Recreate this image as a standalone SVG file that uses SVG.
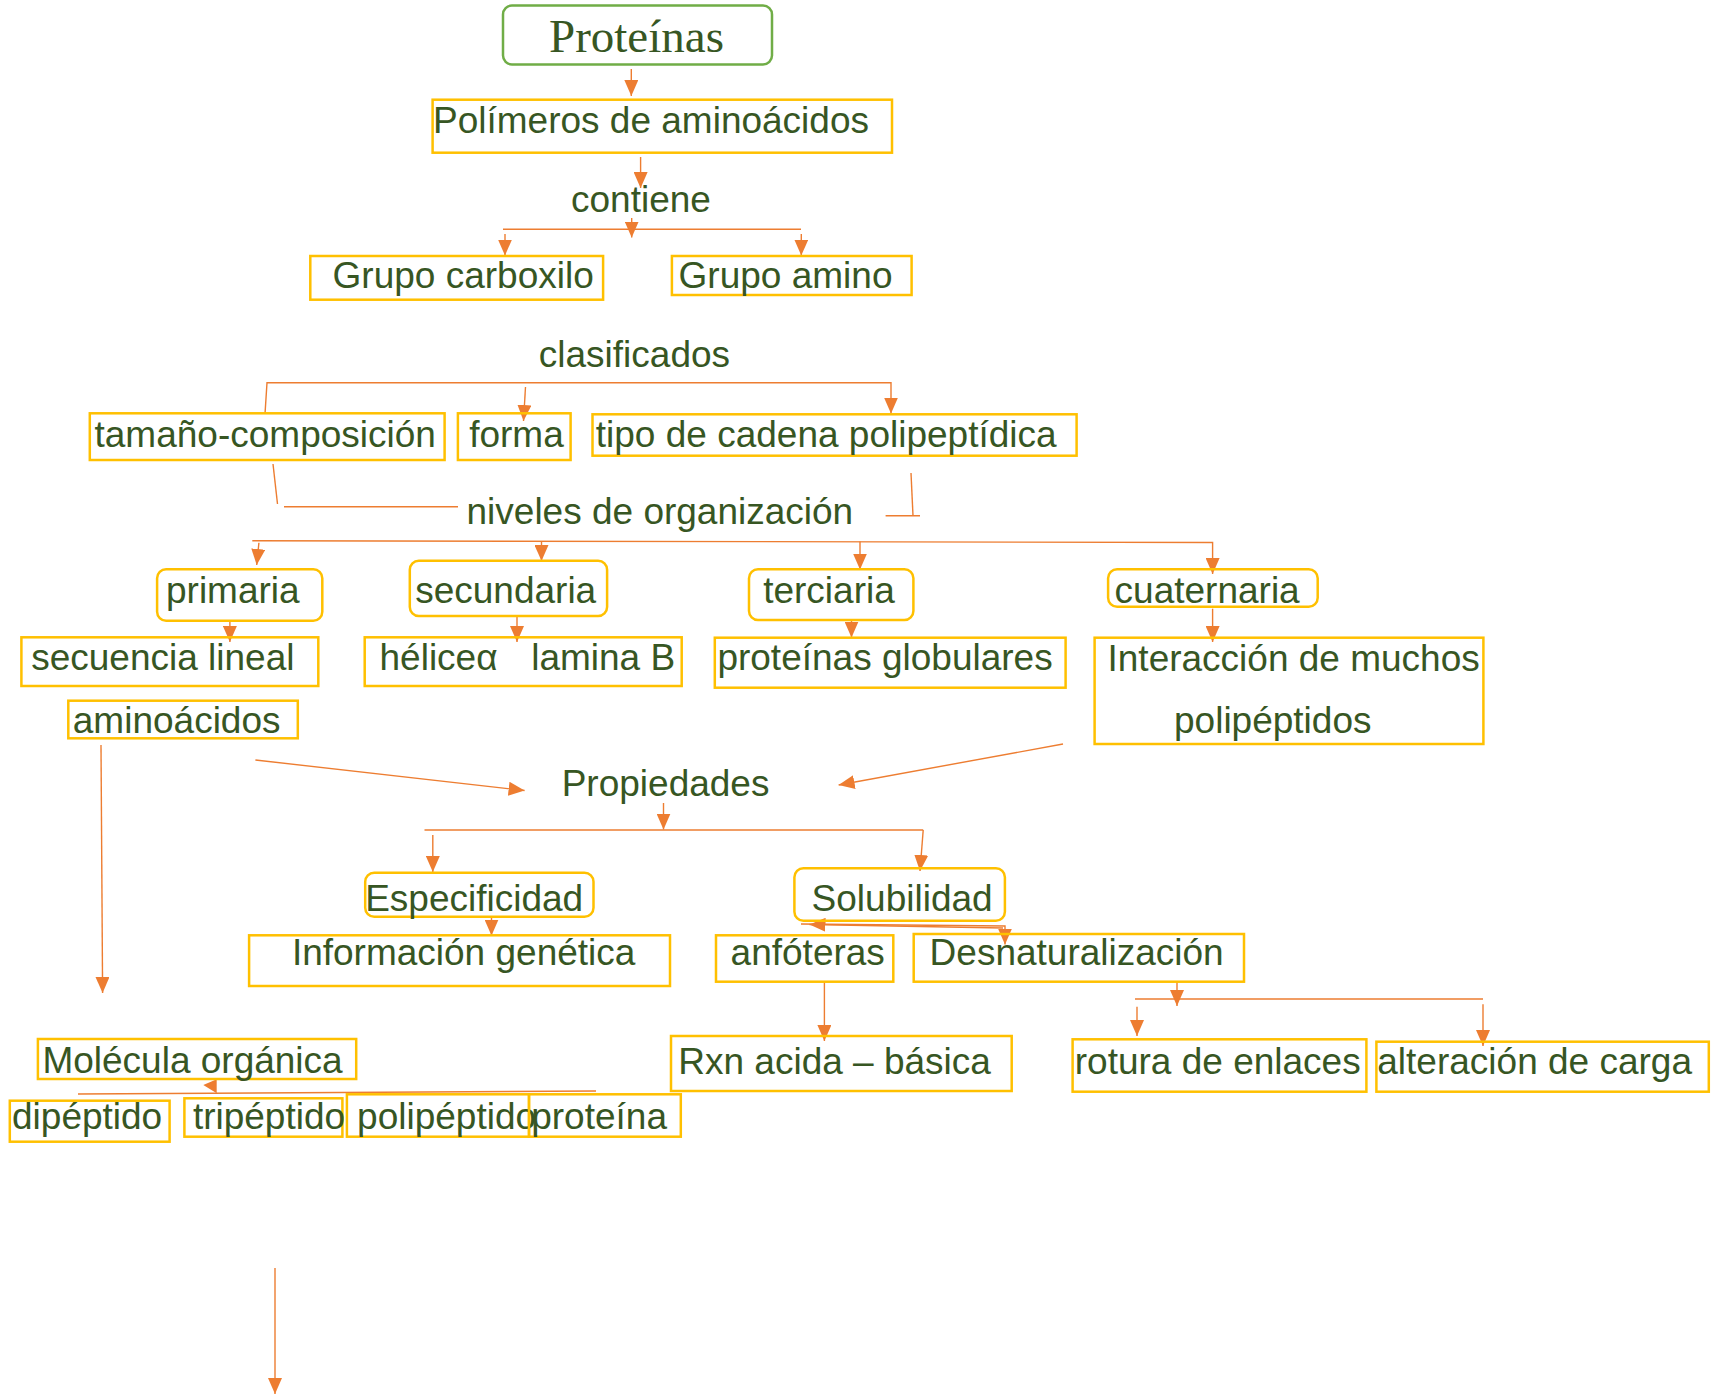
<svg xmlns="http://www.w3.org/2000/svg" width="1711" height="1395" viewBox="0 0 1711 1395">
<style>
.bg{fill:#ffffff}
.box{fill:none;stroke:#ffc000;stroke-width:2.5}
.gbox{fill:none;stroke:#70ad47;stroke-width:2.5}
.t{font-family:"Liberation Sans",Arial,sans-serif;font-size:37px;fill:#375623}
.ts{font-family:"Liberation Serif","Times New Roman",serif;font-size:47px;fill:#375623}
.c{fill:none;stroke:#ed7d31;stroke-width:1.4}
.ah{fill:#ed7d31;stroke:none}
</style>
<defs>
<marker id="arr" viewBox="0 0 16 14" markerWidth="16" markerHeight="14" refX="16" refY="7" orient="auto" markerUnits="userSpaceOnUse">
<path d="M0,0 L16,7 L0,14 z" fill="#ed7d31"/>
</marker>
</defs>
<rect class="bg" x="0" y="0" width="1711" height="1395"/>

<g id="connectors">
<line class="c" x1="631.3" y1="69" x2="631.3" y2="96" marker-end="url(#arr)"/>
<line class="c" x1="640.6" y1="157" x2="640.6" y2="188" marker-end="url(#arr)"/>
<line class="c" x1="503" y1="229.3" x2="801" y2="229.3"/>
<line class="c" x1="631.7" y1="218" x2="631.7" y2="237.5" marker-end="url(#arr)"/>
<line class="c" x1="505" y1="234" x2="505" y2="255.5" marker-end="url(#arr)"/>
<line class="c" x1="801.3" y1="234" x2="801.3" y2="255.5" marker-end="url(#arr)"/>

<polyline class="c" points="265,414 267,382.7 891,382.7 891,413.5" marker-end="url(#arr)"/>
<line class="c" x1="525.5" y1="387" x2="523.5" y2="421" marker-end="url(#arr)"/>

<line class="c" x1="273" y1="464" x2="277.5" y2="504"/>
<line class="c" x1="284" y1="506.7" x2="458" y2="506.7"/>
<line class="c" x1="911" y1="473" x2="913" y2="515.7"/>
<line class="c" x1="885.6" y1="515.7" x2="920" y2="515.7"/>

<polyline class="c" points="252.3,540.7 1212.6,542.5 1212.6,574" marker-end="url(#arr)"/>
<line class="c" x1="258.9" y1="542.7" x2="256.7" y2="565" marker-end="url(#arr)"/>
<line class="c" x1="541.5" y1="541" x2="541.5" y2="561" marker-end="url(#arr)"/>
<line class="c" x1="860" y1="541.5" x2="860" y2="569.5" marker-end="url(#arr)"/>

<line class="c" x1="229.9" y1="621" x2="229.9" y2="642" marker-end="url(#arr)"/>
<line class="c" x1="517" y1="616" x2="517" y2="642" marker-end="url(#arr)"/>
<line class="c" x1="851.5" y1="620" x2="851.5" y2="637.5" marker-end="url(#arr)"/>
<line class="c" x1="1212.6" y1="608.7" x2="1212.6" y2="642" marker-end="url(#arr)"/>

<line class="c" x1="101" y1="745" x2="102.6" y2="993" marker-end="url(#arr)"/>
<line class="c" x1="255.4" y1="760" x2="524.6" y2="790.5" marker-end="url(#arr)"/>
<line class="c" x1="1063" y1="744" x2="838.6" y2="785" marker-end="url(#arr)"/>

<line class="c" x1="663.5" y1="803" x2="663.5" y2="829.5" marker-end="url(#arr)"/>
<line class="c" x1="424.5" y1="830" x2="923.2" y2="830"/>
<line class="c" x1="432.8" y1="835" x2="432.8" y2="872" marker-end="url(#arr)"/>
<line class="c" x1="923.2" y1="830" x2="920" y2="871" marker-end="url(#arr)"/>

<line class="c" x1="491.5" y1="918" x2="491.5" y2="935.5" marker-end="url(#arr)"/>
<polyline class="c" points="801,924 1005,926 1005,944.5" marker-end="url(#arr)"/>
<line class="c" x1="1003" y1="928" x2="809.5" y2="924.5" marker-end="url(#arr)"/>
<line class="c" x1="824.4" y1="982" x2="824.4" y2="1041" marker-end="url(#arr)"/>

<line class="c" x1="1177" y1="982" x2="1177" y2="1006" marker-end="url(#arr)"/>
<line class="c" x1="1135" y1="999" x2="1483" y2="999"/>
<line class="c" x1="1137" y1="1006.7" x2="1137" y2="1036" marker-end="url(#arr)"/>
<line class="c" x1="1483" y1="1004.3" x2="1483" y2="1046" marker-end="url(#arr)"/>

<line class="c" x1="78" y1="1094" x2="596" y2="1091"/>
<path class="ah" d="M203.3,1085 L216.7,1079.3 L216.7,1093.3 z"/>

<line class="c" x1="275" y1="1268" x2="275" y2="1394" marker-end="url(#arr)"/>
</g>

<g id="n-proteinas"><rect class="gbox" x="503" y="5.5" width="269" height="59" rx="9"/><text class="ts" x="549" y="51.7">Proteínas</text></g>
<g id="n-polimeros"><rect class="box" x="432.6" y="99.7" width="459.4" height="53"/><text class="t" x="433" y="132.7">Polímeros de aminoácidos</text></g>
<g id="n-contiene"><text class="t" x="571" y="211.7">contiene</text></g>
<g id="n-carboxilo"><rect class="box" x="310.3" y="256" width="292.8" height="43.7"/><text class="t" x="332.6" y="288.3">Grupo carboxilo</text></g>
<g id="n-amino"><rect class="box" x="671.9" y="256" width="239.7" height="39"/><text class="t" x="678.6" y="288.3">Grupo amino</text></g>
<g id="n-clasificados"><text class="t" x="538.8" y="366.7">clasificados</text></g>
<g id="n-tamano"><rect class="box" x="89.8" y="413.3" width="354.8" height="46.7"/><text class="t" x="94.5" y="446.7">tamaño-composición</text></g>
<g id="n-forma"><rect class="box" x="457.9" y="413.3" width="112.7" height="46.7"/><text class="t" x="469.2" y="446.7">forma</text></g>
<g id="n-tipo"><rect class="box" x="592.5" y="414.3" width="484.1" height="41.4"/><text class="t" x="595.8" y="446.7">tipo de cadena polipeptídica</text></g>
<g id="n-niveles"><text class="t" x="466.5" y="524.3">niveles de organización</text></g>
<g id="n-primaria"><rect class="box" x="157.1" y="569.3" width="165.2" height="51.4" rx="9"/><text class="t" x="166" y="603.3">primaria</text></g>
<g id="n-secundaria"><rect class="box" x="409.8" y="560.7" width="197.3" height="55.3" rx="9"/><text class="t" x="415.2" y="603.3">secundaria</text></g>
<g id="n-terciaria"><rect class="box" x="749" y="569.3" width="164.4" height="50.7" rx="9"/><text class="t" x="763.2" y="602.7">terciaria</text></g>
<g id="n-cuaternaria"><rect class="box" x="1108.1" y="569.3" width="209.6" height="37.4" rx="9"/><text class="t" x="1114.6" y="602.7">cuaternaria</text></g>
<g id="n-secuencia"><rect class="box" x="21.4" y="637.3" width="296.9" height="48.7"/><text class="t" x="31.2" y="670">secuencia lineal</text></g>
<g id="n-helice"><rect class="box" x="364.7" y="637.3" width="317" height="48.7"/><text class="t" x="379.5" y="670">héliceα<tspan x="531.2">lamina B</tspan></text></g>
<g id="n-globulares"><rect class="box" x="714.8" y="637.7" width="350.8" height="50"/><text class="t" x="717.4" y="670">proteínas globulares</text></g>
<g id="n-interaccion"><rect class="box" x="1094.6" y="637.7" width="388.8" height="106.3"/><text class="t" x="1107.5" y="670.7">Interacción de muchos</text><text class="t" x="1174" y="732.7">polipéptidos</text></g>
<g id="n-aminoacidos"><rect class="box" x="68.3" y="700.7" width="229.5" height="37.6"/><text class="t" x="72.8" y="733.3">aminoácidos</text></g>
<g id="n-propiedades"><text class="t" x="561.7" y="795.7">Propiedades</text></g>
<g id="n-especificidad"><rect class="box" x="365.2" y="872.7" width="228.3" height="44" rx="9"/><text class="t" x="365.2" y="910.7">Especificidad</text></g>
<g id="n-solubilidad"><rect class="box" x="794.4" y="868.3" width="210.5" height="52.4" rx="9"/><text class="t" x="811.6" y="910.7">Solubilidad</text></g>
<g id="n-informacion"><rect class="box" x="249.1" y="935.3" width="420.9" height="50.7"/><text class="t" x="291.9" y="965">Información genética</text></g>
<g id="n-anfoteras"><rect class="box" x="716" y="935.3" width="177.3" height="46.4"/><text class="t" x="730.6" y="965">anfóteras</text></g>
<g id="n-desnat"><rect class="box" x="913.7" y="934" width="330.3" height="47.7"/><text class="t" x="929.6" y="965">Desnaturalización</text></g>
<g id="n-rxn"><rect class="box" x="671" y="1036" width="340.7" height="55"/><text class="t" x="678.3" y="1074">Rxn acida – básica</text></g>
<g id="n-rotura"><rect class="box" x="1072.6" y="1039.3" width="293.8" height="52.4"/><text class="t" x="1074.8" y="1074.3">rotura de enlaces</text></g>
<g id="n-alteracion"><rect class="box" x="1376.4" y="1041.7" width="332.4" height="50"/><text class="t" x="1377.3" y="1074.3">alteración de carga</text></g>
<g id="n-molecula"><rect class="box" x="37.9" y="1039" width="318.3" height="40"/><text class="t" x="42.4" y="1073.3">Molécula orgánica</text></g>
<g id="n-dipeptido"><rect class="box" x="9.8" y="1100.7" width="159.8" height="41"/><text class="t" x="12" y="1129.3">dipéptido</text></g>
<g id="n-tripeptido"><rect class="box" x="184.4" y="1098.3" width="158" height="38.4"/><text class="t" x="192.9" y="1129.3">tripéptido</text></g>
<g id="n-polipeptido"><rect class="box" x="346.9" y="1094.3" width="182.1" height="42.4"/><text class="t" x="357.1" y="1129.3">polipéptido</text></g>
<g id="n-proteina"><rect class="box" x="529" y="1094.3" width="151.8" height="42.4"/><text class="t" x="531.2" y="1129.3">proteína</text></g>
</svg>
